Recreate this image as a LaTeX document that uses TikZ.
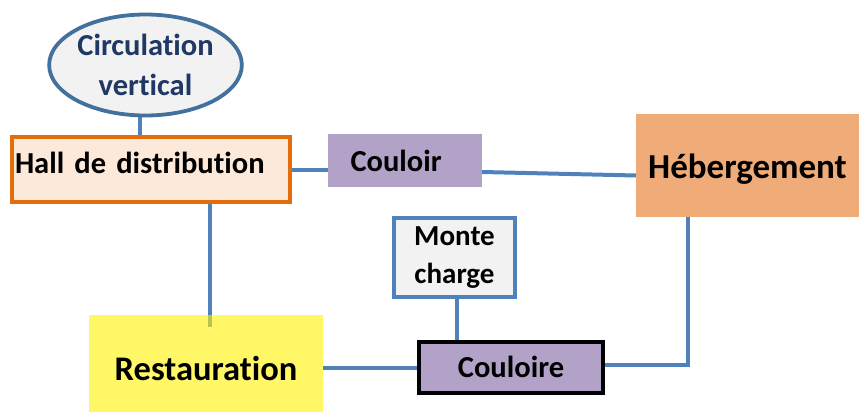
\documentclass[tikz,border=0pt]{standalone}
\usepackage{fontspec}
\setmainfont{Carlito}[Ligatures=NoCommon]
\usetikzlibrary{shapes.geometric,calc}
\pgfdeclarelayer{bg}
\pgfsetlayers{bg,main}
\definecolor{lineblue}{HTML}{4F81BD}
\definecolor{ellblue}{HTML}{41719C}
\definecolor{ellfill}{HTML}{F2F2F2}
\definecolor{navytext}{HTML}{1F3864}
\definecolor{hallorange}{HTML}{E46C0A}
\definecolor{hallfill}{HTML}{FDE9D9}
\definecolor{lilac}{HTML}{B3A2C7}
\definecolor{hebfill}{HTML}{F0AC78}
\begin{document}
\begin{tikzpicture}[x=1pt,y=-1pt,
  box/.style={rectangle, inner sep=0pt, align=center, text=black},
  conn/.style={lineblue, line width=4pt}]
\useasboundingbox (0,0) rectangle (859,412);

\node[ellipse, draw=ellblue, line width=3.8pt, fill=ellfill, inner sep=0pt,
      minimum width=191, minimum height=101, text=navytext, align=center,
      font=\bfseries\fontsize{30.5}{39.5}\selectfont] (circ) at (145.5,65) {Circulation\\vertical};

\node[box, draw=hallorange, line width=4.2pt, fill=hallfill,
      minimum width=277.8, minimum height=64.8, text width=272, align=left,
      text height=22pt, text depth=15pt,
      font=\bfseries\fontsize{30.5}{37}\selectfont] (hall) at (151,169.5) {Hall de distribution};

\node[box, fill=lilac, minimum width=154, minimum height=53, text width=109, align=left,
      text height=22.4pt, text depth=0pt,
      font=\bfseries\fontsize{30.5}{37}\selectfont] (ctop) at (405,160.5) {Couloir};

\node[box, fill=hebfill, minimum width=223, minimum height=103,
      text height=25pt, text depth=0pt,
      font=\bfseries\fontsize{35}{42}\selectfont] (heb) at (747.5,165.5) {Hébergement};

\node[box, fill=yellow, fill opacity=0.6, text opacity=1, minimum width=234, minimum height=97,
      text height=33pt, text depth=0pt,
      font=\bfseries\fontsize{34.5}{42}\selectfont] (rest) at (206,363.5) {Restauration};

\node[box, draw=lineblue, line width=3.8pt, fill=ellfill, minimum width=121.2, minimum height=79.2,
      font=\bfseries\fontsize{29}{38}\selectfont] (mc) at (454.5,257.5) {Monte\\charge};

\node[box, draw=black, line width=4pt, fill=lilac, minimum width=184, minimum height=51,
      text height=19pt, text depth=0pt,
      font=\bfseries\fontsize{30.5}{37}\selectfont] (cbot) at (511,367.5) {Couloire};

\coordinate (hrend) at (210,327);
\coordinate (hebdrop) at (688,217);

\begin{pgfonlayer}{bg}
\draw[conn] ([xshift=-6pt]circ.south) -- ([xshift=-6pt]circ.south |- hall.north);
\draw[conn] (hall.east) -- (hall.east -| ctop.west);
\draw[conn] ([yshift=-11.5pt]ctop.east) -- ([yshift=-10pt]heb.west);
\draw[conn] (hall.south -| hrend) -- (hrend);
\draw[conn] ([xshift=2.5pt]mc.south) -- ([xshift=2.5pt]mc.south |- cbot.north);
\draw[conn] (rest.east |- cbot.west) -- (cbot.west);
\draw[conn] ([yshift=2.5pt]cbot.east) -| (hebdrop);
\end{pgfonlayer}
\end{tikzpicture}
\end{document}
